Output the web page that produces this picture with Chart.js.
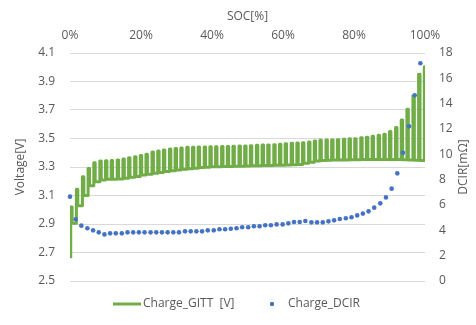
<!DOCTYPE html>
<html>
<head>
<meta charset="utf-8">
<script src="https://cdn.jsdelivr.net/npm/chart.js@4.4.1/dist/chart.umd.min.js"></script>
<style>
  html, body { margin: 0; padding: 0; background: #fff; }
  #wrap { width: 476px; height: 325px; }
</style>
</head>
<body>
<div id="wrap"><canvas id="gittChart" width="476" height="325"></canvas></div>
<script>
// GITT 충전 곡선: 펄스 위치(SOC), 펄스 끝 전압, 휴지 후 전압
const gittStart = 2.66;
const gittSoc = [0.2, 1.8, 3.5, 5.1, 6.7, 8.4, 10.0, 11.6, 13.3, 14.9, 16.5, 18.2, 19.8, 21.4, 23.1, 24.7,
  26.3, 28.0, 29.6, 31.2, 32.9, 34.5, 36.1, 37.8, 39.4, 41.0, 42.7, 44.3, 45.9, 47.6, 49.2, 50.8,
  52.5, 54.1, 55.7, 57.4, 59.0, 60.6, 62.3, 63.9, 65.5, 67.2, 68.8, 70.4, 72.1, 73.7, 75.3, 77.0,
  78.6, 80.2, 81.9, 83.5, 85.1, 86.8, 88.4, 90.0, 91.7, 93.3, 94.9, 96.6, 98.2, 99.8];
const gittTop = [3.02, 3.143, 3.232, 3.29, 3.33, 3.342, 3.344, 3.345, 3.349, 3.356, 3.365, 3.372, 3.38, 3.39, 3.405, 3.413,
  3.419, 3.426, 3.43, 3.433, 3.438, 3.438, 3.44, 3.44, 3.442, 3.442, 3.443, 3.444, 3.445, 3.447, 3.448, 3.45,
  3.452, 3.454, 3.455, 3.456, 3.46, 3.463, 3.466, 3.468, 3.47, 3.476, 3.482, 3.487, 3.489, 3.49, 3.492, 3.494,
  3.498, 3.499, 3.506, 3.508, 3.515, 3.522, 3.529, 3.55, 3.578, 3.63, 3.705, 3.80, 3.951, 4.004];
const gittRest = [2.905, 3.028, 3.10, 3.169, 3.197, 3.209, 3.214, 3.214, 3.216, 3.221, 3.228, 3.234, 3.244, 3.25, 3.256, 3.262,
  3.268, 3.274, 3.279, 3.284, 3.288, 3.292, 3.296, 3.299, 3.301, 3.302, 3.303, 3.304, 3.305, 3.306, 3.307, 3.308,
  3.309, 3.31, 3.311, 3.312, 3.313, 3.314, 3.315, 3.318, 3.326, 3.334, 3.342, 3.346, 3.348, 3.349, 3.35, 3.35,
  3.351, 3.351, 3.352, 3.352, 3.352, 3.353, 3.353, 3.353, 3.352, 3.351, 3.35, 3.348, 3.346, 3.345];

// 펄스별 DCIR
const dcirSoc = [0, 1.6, 3.2, 4.9, 6.5, 8.1, 9.7, 11.3, 12.9, 14.6, 16.2, 17.8, 19.4, 21.0, 22.7, 24.3,
  25.9, 27.5, 29.1, 30.7, 32.4, 34.0, 35.6, 37.2, 38.8, 40.5, 42.1, 43.7, 45.3, 46.9, 48.5, 50.2,
  51.8, 53.4, 55.0, 56.6, 58.2, 59.9, 61.5, 63.1, 64.7, 66.3, 68.0, 69.6, 71.2, 72.8, 74.4, 76.0,
  77.7, 79.3, 80.9, 82.5, 84.1, 85.7, 87.4, 89.0, 90.6, 92.2, 93.8, 95.5, 97.1, 98.7];
const dcirValue = [6.66, 4.87, 4.37, 4.16, 4.00, 3.84, 3.68, 3.76, 3.76, 3.76, 3.84, 3.84, 3.84, 3.84, 3.84, 3.84,
  3.84, 3.84, 3.84, 3.84, 3.92, 3.92, 3.92, 3.92, 4.00, 4.00, 4.08, 4.08, 4.12, 4.16, 4.24, 4.24,
  4.32, 4.32, 4.40, 4.40, 4.47, 4.47, 4.55, 4.66, 4.66, 4.74, 4.63, 4.63, 4.63, 4.71, 4.79, 4.89,
  4.95, 5.03, 5.18, 5.32, 5.50, 5.79, 6.13, 6.60, 7.29, 8.50, 10.13, 12.21, 14.66, 17.19];

const socTicks = [0, 20, 40, 60, 80, 100];

const GREEN = '#70AD47';
const BLUE = '#4472C4';
const TEXT = '#595959';
const GRID = '#D9D9D9';
const FONT = "'Open Sans', 'Noto Sans', sans-serif";

// 펄스 폭(SOC %)
const pulseWidth = 0.4;

// 전압 곡선 점 목록 만들기
const gittPoints = [];
for (let i = 0; i < gittSoc.length; i++) {
  const s = gittSoc[i];
  gittPoints.push({ x: s, y: i === 0 ? gittStart : gittRest[i - 1] });
  gittPoints.push({ x: s, y: gittTop[i] });
  gittPoints.push({ x: s + pulseWidth, y: gittTop[i] });
  gittPoints.push({ x: s + pulseWidth, y: gittRest[i] });
}
const dcirPoints = dcirSoc.map((s, i) => ({ x: s, y: dcirValue[i] }));

// 범례와 오른쪽 축 제목은 직접 그림
const legendPlugin = {
  id: 'bottomLegend',
  afterDraw(chart) {
    const ctx = chart.ctx;
    const area = chart.chartArea;
    const y = area.bottom + 23;
    ctx.save();
    ctx.font = '12px ' + FONT;
    ctx.fillStyle = TEXT;
    ctx.textBaseline = 'middle';
    ctx.textAlign = 'left';

    ctx.strokeStyle = GREEN;
    ctx.lineWidth = 3;
    ctx.beginPath();
    ctx.moveTo(113, y);
    ctx.lineTo(141, y);
    ctx.stroke();
    ctx.fillText(chart.data.datasets[0].label, 143, y);

    ctx.fillStyle = BLUE;
    ctx.beginPath();
    ctx.arc(272, y, 2.2, 0, Math.PI * 2);
    ctx.fill();
    ctx.fillStyle = TEXT;
    ctx.fillText(chart.data.datasets[1].label, 288, y);

    // DCIR 축 제목
    ctx.translate(464, (area.top + area.bottom) / 2);
    ctx.rotate(-Math.PI / 2);
    ctx.textAlign = 'center';
    ctx.fillText('DCIR[mΩ]', 0, 0);
    ctx.restore();
  }
};

const ctx = document.getElementById('gittChart').getContext('2d');

const chart = new Chart(ctx, {
  type: 'scatter',
  data: {
    datasets: [{
      label: 'Charge_GITT  [V]',
      data: gittPoints,
      showLine: true,
      borderColor: GREEN,
      backgroundColor: GREEN,
      borderWidth: 3,
      borderJoinStyle: 'round',
      pointRadius: 0,
      tension: 0,
      yAxisID: 'y',
      order: 2
    }, {
      label: 'Charge_DCIR',
      data: dcirPoints,
      showLine: false,
      backgroundColor: BLUE,
      borderColor: BLUE,
      borderWidth: 0,
      pointRadius: 2.3,
      yAxisID: 'y2',
      clip: false,
      order: 1
    }]
  },
  options: {
    responsive: false,
    animation: false,
    layout: { padding: { top: 0, right: 0, bottom: 44, left: 0 } },
    plugins: {
      legend: { display: false },
      tooltip: { enabled: false }
    },
    scales: {
      x: {
        type: 'linear',
        position: 'top',
        min: 0,
        max: 100,
        afterBuildTicks: (scale) => { scale.ticks = socTicks.map(v => ({ value: v })); },
        afterFit: (scale) => { scale.height = 53; },
        grid: { display: false },
        border: { display: false },
        ticks: {
          padding: 2,
          color: TEXT,
          font: { family: FONT, size: 12 },
          callback: (v) => v + '%'
        },
        title: {
          display: true,
          text: 'SOC[%]',
          color: TEXT,
          font: { family: FONT, size: 12 },
          padding: { top: 9, bottom: 0 }
        }
      },
      y: {
        position: 'left',
        min: 2.5,
        max: 4.1,
        afterFit: (scale) => { scale.width = 70; },
        grid: { color: GRID, lineWidth: 1, drawTicks: false },
        border: { display: false },
        ticks: {
          stepSize: 0.2,
          padding: 15,
          color: TEXT,
          font: { family: FONT, size: 12 },
          callback: (v) => Number(v).toFixed(1)
        },
        title: {
          display: true,
          text: 'Voltage[V]',
          color: TEXT,
          font: { family: FONT, size: 12 },
          padding: { top: 13, bottom: 0 }
        }
      },
      y2: {
        position: 'right',
        min: 0,
        max: 18,
        afterFit: (scale) => { scale.width = 51; },
        grid: { display: false, drawTicks: false },
        border: { display: false },
        ticks: {
          stepSize: 2,
          padding: 14,
          color: TEXT,
          font: { family: FONT, size: 12 }
        }
      }
    }
  },
  plugins: [legendPlugin]
});
</script>
</body>
</html>
